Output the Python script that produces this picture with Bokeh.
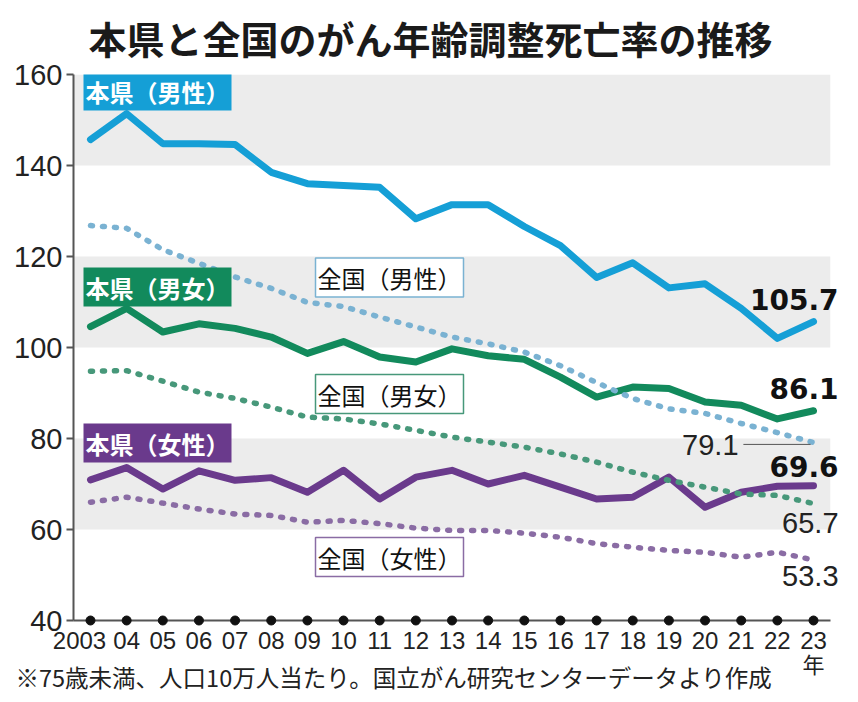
from bokeh.plotting import figure
from bokeh.models import Range1d, FixedTicker, BoxAnnotation, Label, ColumnDataSource
from bokeh.core.properties import value
from bokeh.embed import file_html
from bokeh.resources import INLINE

years = list(range(2003, 2024))
year_labels = ["2003", "04", "05", "06", "07", "08", "09", "10", "11", "12", "13",
               "14", "15", "16", "17", "18", "19", "20", "21", "22", "23"]
y_ticks = [40, 60, 80, 100, 120, 140, 160]

pref_male = [145.7, 151.4, 144.8, 144.8, 144.6, 138.5, 136.0, 135.6, 135.2, 128.3, 131.4,
             131.4, 126.6, 122.4, 115.4, 118.6, 113.1, 114.0, 108.6, 102.0, 105.7]
pref_all = [104.6, 108.6, 103.4, 105.2, 104.2, 102.3, 98.7, 101.3, 97.9, 96.8, 99.7,
            98.2, 97.4, 93.5, 89.1, 91.3, 91.0, 88.0, 87.3, 84.3, 86.1]
pref_female = [70.9, 73.6, 68.9, 72.9, 70.8, 71.4, 68.2, 73.0, 66.7, 71.5, 73.0,
               70.0, 71.9, 69.3, 66.7, 67.1, 71.5, 64.9, 68.2, 69.5, 69.6]
nat_male = [126.8, 126.2, 121.5, 118.5, 115.5, 113.0, 109.9, 109.0, 106.7, 104.5, 102.3,
            100.8, 99.0, 96.0, 92.3, 88.8, 86.5, 85.5, 83.3, 81.3, 79.1]
nat_all = [94.8, 94.9, 92.6, 90.2, 88.8, 86.9, 84.7, 84.3, 83.2, 81.8, 80.3,
           79.2, 78.1, 76.6, 74.8, 72.6, 70.8, 69.3, 67.8, 67.5, 65.7]
nat_female = [66.0, 67.1, 65.8, 64.5, 63.4, 63.1, 61.6, 62.0, 61.3, 60.3, 59.8,
              59.8, 59.2, 58.3, 56.9, 56.1, 55.4, 55.0, 53.9, 55.0, 53.3]

title_text = "本県と全国のがん年齢調整死亡率の推移"
note_text = "※75歳未満、人口10万人当たり。国立がん研究センターデータより作成"

BLUE = "#159fd6"
GREEN = "#128a5c"
PURPLE = "#6a3a8c"
BLUE_D = "#7ab2d2"
GREEN_D = "#47987a"
PURPLE_D = "#8a6ca4"

CJK = "Noto Sans CJK JP"

X0, X1 = 2002.53, 2023.47
p = figure(frame_width=757, frame_height=546,
           x_range=Range1d(X0, X1), y_range=Range1d(y_ticks[0], y_ticks[-1]),
           output_backend="svg", toolbar_location=None,
           min_border_left=73, min_border_right=20, min_border_top=74, min_border_bottom=78)
p.outline_line_color = None
p.xgrid.visible = False
p.ygrid.visible = False
p.background_fill_color = "white"

for lo, hi in [(140, 160), (100, 120), (60, 80)]:
    p.add_layout(BoxAnnotation(bottom=lo, top=hi, fill_color="#ececec", fill_alpha=1,
                               line_color=None, level="underlay"))

# solid lines (本県)
for ys, c in [(pref_male, BLUE), (pref_all, GREEN), (pref_female, PURPLE)]:
    p.line(years, ys, line_color=c, line_width=7, line_join="round", line_cap="round")
# dotted lines (全国)
for ys, c in [(nat_male, BLUE_D), (nat_all, GREEN_D), (nat_female, PURPLE_D)]:
    p.line(years, ys, line_color=c, line_width=5.5, line_dash="2 10", line_cap="round",
           line_join="round")

# axes
p.yaxis.ticker = FixedTicker(ticks=y_ticks)
p.yaxis.minor_tick_line_color = None
p.yaxis.axis_line_color = "#555555"
p.yaxis.axis_line_width = 2
p.yaxis.major_tick_line_color = "#555555"
p.yaxis.major_tick_line_width = 2
p.yaxis.major_tick_out = 7
p.yaxis.major_tick_in = 0
p.yaxis.major_label_standoff = 4
p.yaxis.major_label_text_font = "Liberation Sans"
p.yaxis.major_label_text_font_size = "29px"
p.yaxis.major_label_text_color = "#222222"

p.xaxis.ticker = FixedTicker(ticks=years)
p.xaxis.minor_tick_line_color = None
p.xaxis.axis_line_color = "#555555"
p.xaxis.axis_line_width = 2
p.xaxis.major_tick_out = 0
p.xaxis.major_tick_in = 0
p.xaxis.major_label_text_color = None

p.scatter(years, [y_ticks[0]] * len(years), size=9, color="#111111", level="overlay")

# x tick labels (first one shifted left like the original)
xl_src = ColumnDataSource(dict(
    x=years, y=[y_ticks[0]] * len(years), t=year_labels,
    xo=[-11] + [0] * (len(years) - 1),
))
p.text(x="x", y="y", text="t", source=xl_src, text_font=value("Liberation Sans"),
       text_font_size="24px", text_align="center", text_baseline="middle",
       x_offset="xo", y_offset=20, text_color="#222222", level="overlay")

# 年 unit under last tick
p.text(x=[years[-1]], y=[y_ticks[0]], text=["年"], text_font=value(CJK),
       text_font_size="22px", text_align="center", text_baseline="middle",
       y_offset=42, text_color="#222222", level="overlay")

# title and note
p.text(x=[X0], y=[y_ticks[-1]], text=[title_text], text_font=value(CJK),
       text_font_style="bold", text_font_size="38px", text_align="left",
       text_baseline="middle", x_offset=15, y_offset=-37, text_color="#1a1a1a",
       level="overlay")
p.text(x=[X0], y=[y_ticks[0]], text=[note_text], text_font=value(CJK),
       text_font_size="23.5px", text_align="left", text_baseline="middle",
       x_offset=-58, y_offset=56, text_color="#222222", level="overlay")

# end labels
end_src = ColumnDataSource(dict(
    x=[years[-1]] * 3,
    y=[pref_male[-1], pref_all[-1], pref_female[-1]],
    t=[f"{pref_male[-1]:.1f}", f"{pref_all[-1]:.1f}", f"{pref_female[-1]:.1f}"],
    yo=[-22, -22, -19],
))
p.text(x="x", y="y", text="t", source=end_src, text_font=value("DejaVu Sans"),
       text_font_style="bold", text_font_size="28px", text_align="right",
       text_baseline="middle", x_offset=25, y_offset="yo", text_color="#111111",
       level="overlay")
end_src2 = ColumnDataSource(dict(
    x=[years[-1]] * 3,
    y=[nat_male[-1], nat_all[-1], nat_female[-1]],
    t=[f"{nat_male[-1]:.1f}", f"{nat_all[-1]:.1f}", f"{nat_female[-1]:.1f}"],
    xo=[-75, 25, 25],
    yo=[2, 19, 16],
))
p.text(x="x", y="y", text="t", source=end_src2, text_font=value("Liberation Sans"),
       text_font_size="29px", text_align="right", text_baseline="middle",
       x_offset="xo", y_offset="yo", text_color="#222222", level="overlay")
# leader line for 79.1
p.segment(x0=[years[-1] - 1.94], x1=[years[-1] - 0.08], y0=[nat_male[-1] - 0.4],
          y1=[nat_male[-1] - 0.4], line_color="#555555", line_width=1)

# series labels
def box(text, sx, sy, fill, border, color, bold):
    p.add_layout(Label(x=sx, y=sy, x_units="screen", y_units="screen", text=text,
                       text_font=CJK, text_font_size="24px",
                       text_font_style="bold" if bold else "normal",
                       text_color=color, text_baseline="middle", text_align="left",
                       background_fill_color=fill, background_fill_alpha=1,
                       border_line_color=border, border_line_width=1.5, padding=2))

box("本県（男性）", 10, 529.5, BLUE, None, "white", True)
box("本県（男女）", 10, 333.5, GREEN, None, "white", True)
box("本県（女性）", 10, 177.5, PURPLE, None, "white", True)
box("全国（男性）", 242, 343, "white", BLUE_D, "#111111", False)
box("全国（男女）", 242, 226.5, "white", GREEN_D, "#111111", False)
box("全国（女性）", 242, 63.5, "white", PURPLE_D, "#111111", False)

open("out.html", "w").write(file_html(p, INLINE))
